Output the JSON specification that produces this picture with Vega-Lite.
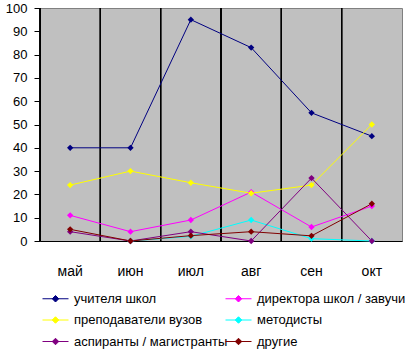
{
  "$schema": "https://vega.github.io/schema/vega-lite/v6.json",
  "autosize": "none",
  "width": 362,
  "height": 233,
  "padding": {"left": 40, "top": 8, "right": 7, "bottom": 111},
  "background": "white",
  "config": {
    "font": "Liberation Sans",
    "view": {"fill": "#C0C0C0", "stroke": "#808080", "strokeWidth": 1}
  },
  "data": {
    "values": [
      {"month": "май", "group": "учителя школ", "value": 40},
      {"month": "июн", "group": "учителя школ", "value": 40},
      {"month": "июл", "group": "учителя школ", "value": 95},
      {"month": "авг", "group": "учителя школ", "value": 83},
      {"month": "сен", "group": "учителя школ", "value": 55},
      {"month": "окт", "group": "учителя школ", "value": 45},
      {"month": "май", "group": "директора школ / завучи", "value": 11},
      {"month": "июн", "group": "директора школ / завучи", "value": 4},
      {"month": "июл", "group": "директора школ / завучи", "value": 9},
      {"month": "авг", "group": "директора школ / завучи", "value": 21},
      {"month": "сен", "group": "директора школ / завучи", "value": 6},
      {"month": "окт", "group": "директора школ / завучи", "value": 15},
      {"month": "май", "group": "преподаватели вузов", "value": 24},
      {"month": "июн", "group": "преподаватели вузов", "value": 30},
      {"month": "июл", "group": "преподаватели вузов", "value": 25},
      {"month": "авг", "group": "преподаватели вузов", "value": 20.5},
      {"month": "сен", "group": "преподаватели вузов", "value": 24},
      {"month": "окт", "group": "преподаватели вузов", "value": 50},
      {"month": "июн", "group": "методисты", "value": 0},
      {"month": "июл", "group": "методисты", "value": 2},
      {"month": "авг", "group": "методисты", "value": 9},
      {"month": "сен", "group": "методисты", "value": 1},
      {"month": "окт", "group": "методисты", "value": 0},
      {"month": "май", "group": "аспиранты / магистранты", "value": 4},
      {"month": "июн", "group": "аспиранты / магистранты", "value": 0},
      {"month": "июл", "group": "аспиранты / магистранты", "value": 4},
      {"month": "авг", "group": "аспиранты / магистранты", "value": 0},
      {"month": "сен", "group": "аспиранты / магистранты", "value": 27},
      {"month": "окт", "group": "аспиранты / магистранты", "value": 0},
      {"month": "май", "group": "другие", "value": 5},
      {"month": "июн", "group": "другие", "value": 0},
      {"month": "июл", "group": "другие", "value": 2.3},
      {"month": "авг", "group": "другие", "value": 4},
      {"month": "сен", "group": "другие", "value": 2.2},
      {"month": "окт", "group": "другие", "value": 16}
    ]
  },
  "layer": [
    {
      "mark": {"type": "rule", "color": "black", "strokeWidth": 1},
      "encoding": {
        "x": {
          "field": "month", "type": "ordinal", "bandPosition": 0,
          "sort": ["май", "июн", "июл", "авг", "сен", "окт"],
          "scale": {"type": "band", "paddingInner": 0, "paddingOuter": 0},
          "axis": {
            "title": null, "labelAngle": 0, "ticks": false, "tickSize": 0,
            "labelPadding": 23, "labelFontSize": 14, "labelColor": "black",
            "domainColor": "black", "grid": false
          }
        }
      }
    },
    {
      "encoding": {
        "x": {
          "field": "month", "type": "ordinal", "bandPosition": 0.5,
          "sort": ["май", "июн", "июл", "авг", "сен", "окт"]
        },
        "y": {
          "field": "value", "type": "quantitative",
          "scale": {"domain": [0, 100], "nice": false},
          "axis": {
            "title": null, "values": [0, 10, 20, 30, 40, 50, 60, 70, 80, 90, 100],
            "labelOverlap": false, "labelFlush": false,
            "grid": false, "tickSize": 6, "tickColor": "black", "labelPadding": 7,
            "labelFontSize": 13, "labelColor": "black", "domainColor": "black"
          }
        },
        "color": {
          "field": "group", "type": "nominal",
          "scale": {
            "domain": ["учителя школ", "преподаватели вузов", "аспиранты / магистранты", "директора школ / завучи", "методисты", "другие"],
            "range": ["#000080", "#FFFF00", "#800080", "#FF00FF", "#00FFFF", "#800000"]
          },
          "legend": {
            "title": null, "orient": "none", "legendX": 9, "legendY": 284,
            "direction": "vertical", "columns": 2, "columnPadding": -5, "rowPadding": 7.5,
            "symbolType": "M-2.6,0H2.6M0,-0.65L0.65,0L0,0.65L-0.65,0Z",
            "symbolSize": 100, "symbolStrokeWidth": 1, "labelOffset": 12,
            "labelFontSize": 13, "labelColor": "black", "labelLimit": 300,
            "encode": {"symbols": {"update": {"fill": {"scale": "color", "field": "value"}, "opacity": {"value": 1}}}}
          }
        }
      },
      "layer": [
        {"mark": {"type": "line", "strokeWidth": 1}},
        {"mark": {"type": "point", "shape": "diamond", "filled": true, "size": 40, "opacity": 1}}
      ]
    }
  ]
}
